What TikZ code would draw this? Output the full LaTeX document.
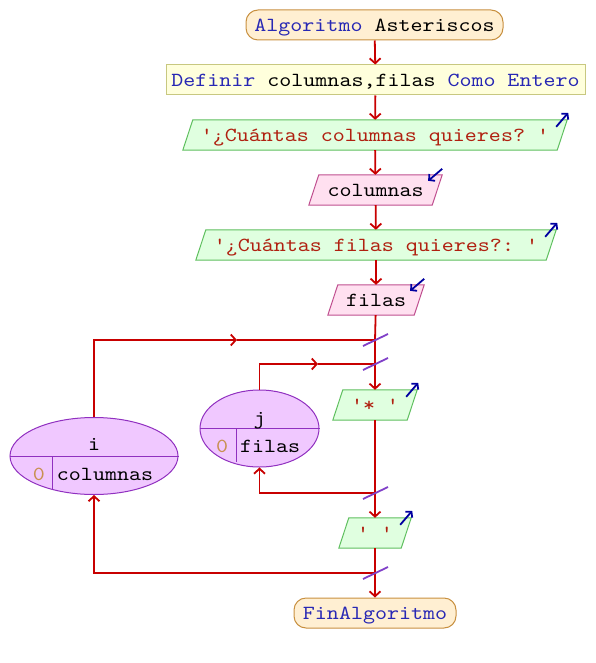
\documentclass[tikz,border=0pt]{standalone}
\usepackage{fontspec}
\setmonofont{lmmono10-regular}[Extension=.otf, FakeStretch=1.143]
\usetikzlibrary{arrows.meta,shapes.geometric,backgrounds,calc}
\definecolor{kw}{HTML}{2828B4}
\definecolor{str}{HTML}{B02010}
\definecolor{num}{HTML}{C89050}
\definecolor{flowc}{HTML}{C80000}
\definecolor{slashc}{HTML}{8040C8}
\definecolor{termf}{HTML}{FFEFD2}
\definecolor{termd}{HTML}{C89040}
\definecolor{deff}{HTML}{FFFFDC}
\definecolor{defd}{HTML}{C8C880}
\definecolor{outf}{HTML}{E0FFE0}
\definecolor{outd}{HTML}{60C060}
\definecolor{inf}{HTML}{FFE0F0}
\definecolor{ind}{HTML}{C05090}
\definecolor{loopf}{HTML}{F0C8FF}
\definecolor{loopd}{HTML}{9030C0}
\definecolor{ioarr}{HTML}{0000A0}
\newcommand\ioshape[3]{%
  \begin{scope}[on background layer]
    \filldraw[fill=#2,draw=#3,line width=1pt] ($(#1.north west)+(10,0)$) -- (#1.north east) -- ($(#1.south east)+(-10,0)$) -- (#1.south west) -- cycle;
  \end{scope}}
\begin{document}
\begin{tikzpicture}[x=1pt,y=-1pt,
  txt/.style={font=\ttfamily\fontsize{20}{24}\selectfont, inner sep=0pt, text height=15pt, text depth=2pt},
  term/.style={txt, draw=termd, fill=termf, rounded corners=12pt, line width=1pt, minimum height=30pt, minimum width=#1},
  defbox/.style={txt, draw=defd, fill=deff, line width=1pt, minimum height=30pt, minimum width=#1},
  io/.style={txt, minimum height=30pt, minimum width=#1},
  loopell/.style={ellipse, draw=loopd, fill=loopf, line width=1pt, inner sep=0pt},
  flow/.style={draw=flowc, line width=1.8pt, -{Straight Barb[length=5pt,width=11pt]}},
  plain/.style={draw=flowc, line width=1.8pt},
  slashmark/.style={draw=slashc, line width=1.8pt},
  ioarrow/.style={draw=ioarr, line width=1.8pt, -{Straight Barb[length=4pt,width=9pt]}}
]
\useasboundingbox (0,0) rectangle (595,663);

\node[term=257pt] (start) at (374.5,25) {{\color{kw}Algoritmo} Asteriscos};
\node[defbox=419pt] (def) at (375.5,80) {{\color{kw}Definir} columnas,filas {\color{kw}Como Entero}};
\node[io=384pt] (o1) at (375,135) {\color{str}'¿Cuántas columnas quieres? '};
\node[io=133pt] (r1) at (375.5,190) {columnas};
\node[io=360pt] (o2) at (376,245) {\color{str}'¿Cuántas filas quieres?: '};
\node[io=96pt] (r2) at (376,300) {filas};
\node[io=84pt] (o3) at (375,405) {\color{str}'* '};
\node[io=72pt] (o4) at (375,533) {\color{str}' '};
\node[term=162pt] (fin) at (375,613) {\color{kw}FinAlgoritmo};

\ioshape{o1}{outf}{outd}
\ioshape{r1}{inf}{ind}
\ioshape{o2}{outf}{outd}
\ioshape{r2}{inf}{ind}
\ioshape{o3}{outf}{outd}
\ioshape{o4}{outf}{outd}

\draw[ioarrow] ($(o1.north east)+(-11,7)$) -- ($(o1.north east)+(1,-7)$);
\draw[ioarrow] ($(o2.north east)+(-11,7)$) -- ($(o2.north east)+(1,-7)$);
\draw[ioarrow] ($(o3.north east)+(-11,7)$) -- ($(o3.north east)+(1,-7)$);
\draw[ioarrow] ($(o4.north east)+(-11,7)$) -- ($(o4.north east)+(1,-7)$);
\draw[ioarrow] ($(r1.north east)+(0,-6)$) -- ($(r1.north east)+(-14,6)$);
\draw[ioarrow] ($(r2.north east)+(0,-6)$) -- ($(r2.north east)+(-14,6)$);

% loop ellipses
\node[loopell, minimum width=168pt, minimum height=77pt] (ei) at (94,456) {};
\draw[loopd, line width=1pt] (ei.west) -- (ei.east);
\draw[loopd, line width=1pt] (52,456) -- (52,489);
\node[txt] (ivar) at (94,444) {i};
\node[txt, text=num] (ifrom) at (39,474) {0};
\node[txt] (ito) at (105,474) {columnas};

\node[loopell, minimum width=119pt, minimum height=77pt] (ej) at (259.5,428.5) {};
\draw[loopd, line width=1pt] (ej.west) -- (ej.east);
\draw[loopd, line width=1pt] (236,428.5) -- (236,462);
\node[txt] (jvar) at (259.5,418) {j};
\node[txt, text=num] (jfrom) at (222,446) {0};
\node[txt] (jto) at (270,446) {filas};

% connectors
\coordinate (L1) at (375,340);
\coordinate (L2) at (375,364);
\coordinate (L3) at (375,493);
\coordinate (L4) at (375,573);
\coordinate (a1) at (237,340);
\coordinate (a2) at (318,364);

\draw[flow] (start) -- (def);
\draw[flow] (def) -- (o1);
\draw[flow] (o1) -- (r1);
\draw[flow] (r1) -- (o2);
\draw[flow] (o2) -- (r2);
\draw[plain] (r2) -- (L1) -- (L2);
\draw[flow] (L2) -- (o3);
\draw[flow] (ei.north) |- (a1);
\draw[plain] (a1) -- (L1);
\draw[flow] (ej.north) |- (a2);
\draw[plain] (a2) -- (L2);
\draw[plain] (o3) -- (L3);
\draw[flow] (L3) -- (o4);
\draw[flow] (L3) -| (ej.south);
\draw[plain] (o4) -- (L4);
\draw[flow] (L4) -- (fin);
\draw[flow] (L4) -| (ei.south);

\foreach \c in {L1,L2,L3,L4}
  \draw[slashmark] ($(\c)+(-12,6)$) -- ($(\c)+(13,-6)$);
\end{tikzpicture}
\end{document}
